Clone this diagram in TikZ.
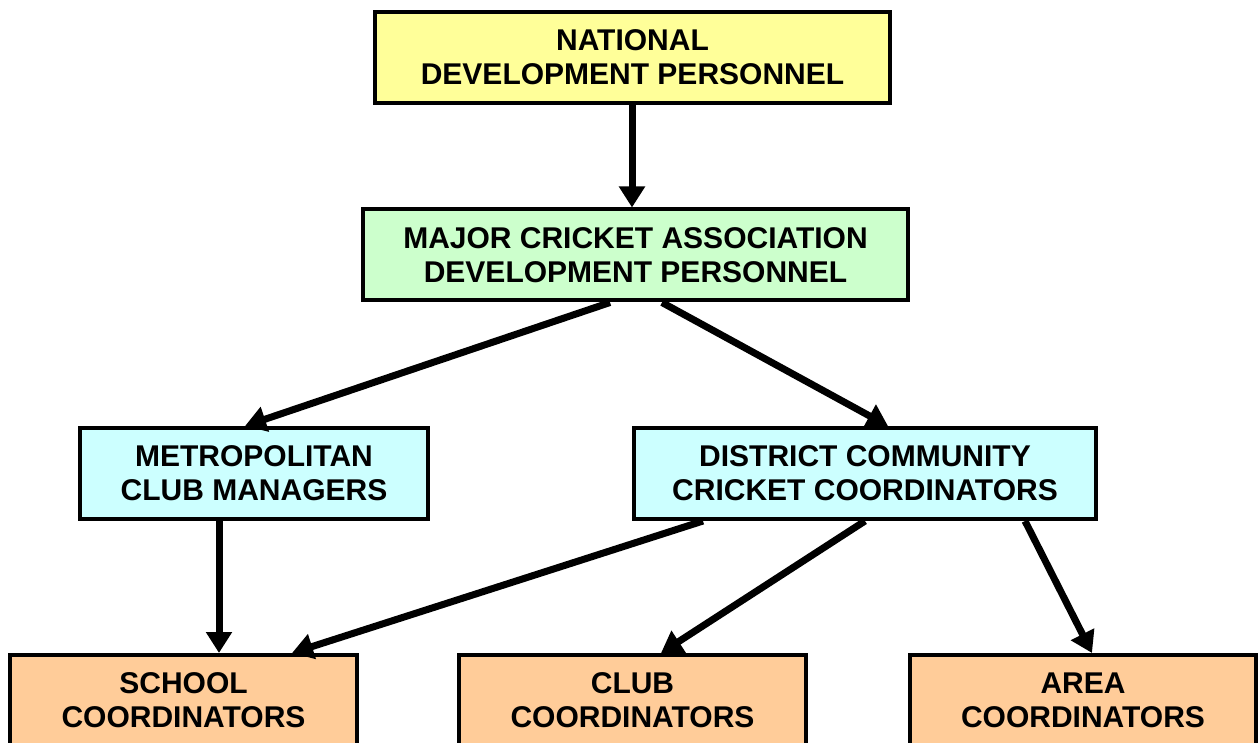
\documentclass[tikz,border=0pt]{standalone}
\usepackage{fontspec}
\setmainfont{Liberation Sans}
\usetikzlibrary{arrows.meta}
\definecolor{cyel}{HTML}{FFFF99}
\definecolor{cgrn}{HTML}{CCFFCC}
\definecolor{ccyn}{HTML}{CCFFFF}
\definecolor{corg}{HTML}{FFCC99}
\begin{document}
\begin{tikzpicture}[x=1pt,y=-1pt,
  box/.style={draw=black,line width=4pt,minimum height=91pt,inner sep=0pt,align=center,
    font=\fontsize{30}{34}\selectfont\bfseries},
  conn/.style={line width=7pt,-{Triangle[length=21pt,width=25pt]}}]
\useasboundingbox (0,0) rectangle (1258,743);
\clip (0,0) rectangle (1258,743);
\node[box,fill=cyel,minimum width=515pt] (nat) at (632.5,57.5) {NATIONAL\\DEVELOPMENT PERSONNEL};
\node[box,fill=cgrn,minimum width=545pt] (maj) at (635.5,255) {MAJOR CRICKET ASSOCIATION\\DEVELOPMENT PERSONNEL};
\node[box,fill=ccyn,minimum width=348pt] (met) at (254,473.5) {METROPOLITAN\\CLUB MANAGERS};
\node[box,fill=ccyn,minimum width=462pt] (dis) at (865,473.5) {DISTRICT COMMUNITY\\CRICKET COORDINATORS};
\node[box,fill=corg,minimum width=347pt] (sch) at (183.5,700.5) {SCHOOL\\COORDINATORS};
\node[box,fill=corg,minimum width=347pt] (clb) at (632.5,700.5) {CLUB\\COORDINATORS};
\node[box,fill=corg,minimum width=346pt] (are) at (1083,700.5) {AREA\\COORDINATORS};
\draw[conn] ([xshift=-0.5pt]nat.south) -- ([xshift=-3.5pt]maj.north);
\draw[conn] ([xshift=-25.5pt]maj.south) -- ([xshift=-9pt]met.north);
\draw[conn] ([xshift=26.5pt]maj.south) -- ([xshift=23pt]dis.north);
\draw[conn] ([xshift=-35pt]met.south) -- ([xshift=35.5pt]sch.north);
\draw[conn] ([xshift=-162pt]dis.south) -- ([xshift=108.5pt]sch.north);
\draw[conn] (dis.south) -- ([xshift=28.5pt]clb.north);
\draw[conn] ([xshift=160pt]dis.south) -- ([xshift=9pt]are.north);
\end{tikzpicture}
\end{document}
